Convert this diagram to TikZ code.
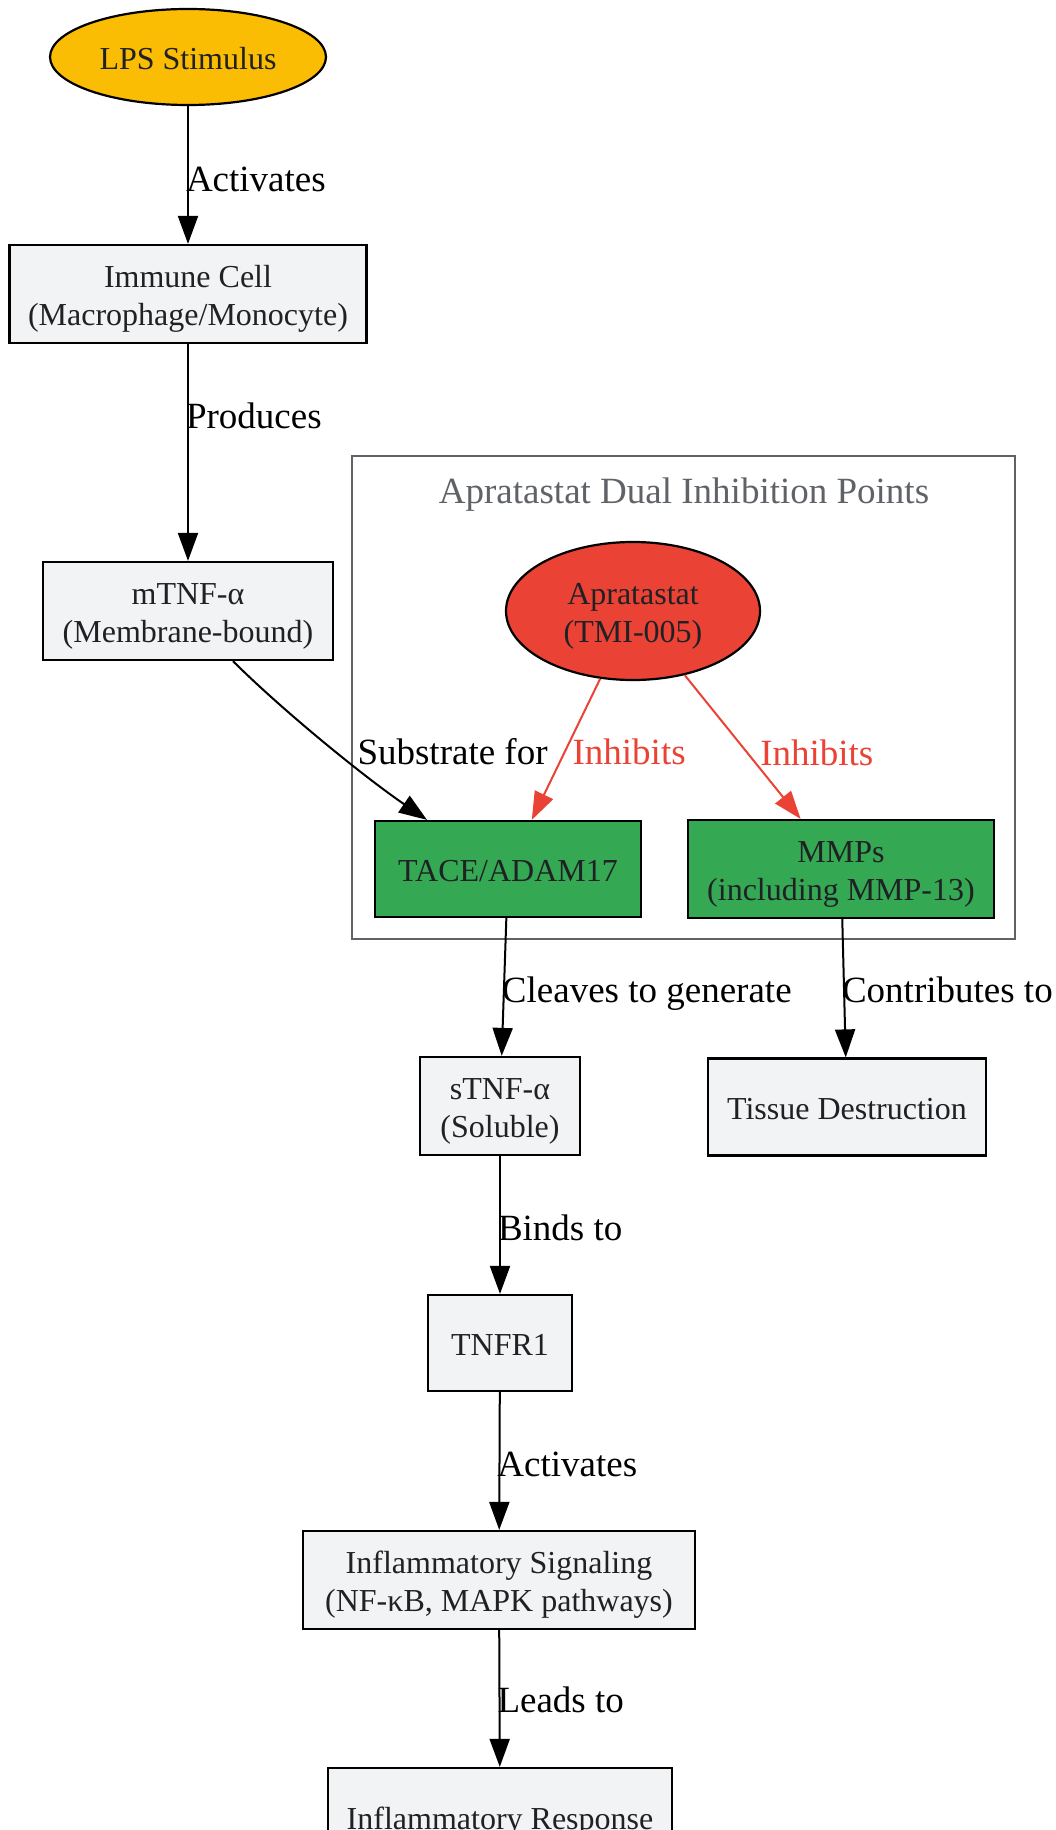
\documentclass[tikz,border=0pt]{standalone}
\usepackage{fontspec}
\setmainfont{Liberation Serif}
\usetikzlibrary{arrows.meta,shapes.geometric,positioning}
\definecolor{boxfill}{HTML}{F1F3F4}
\definecolor{txtdark}{HTML}{202124}
\definecolor{lpsyellow}{HTML}{FBBC04}
\definecolor{aprred}{HTML}{EA4335}
\definecolor{enzgreen}{HTML}{34A853}
\definecolor{clgray}{HTML}{5F6368}
\newcommand{\boxstrut}{\rule[-7pt]{0pt}{39pt}}
\tikzstyle{box}=[draw=black,line width=2.2pt,fill=boxfill,text=txtdark,align=center,
                inner sep=0pt,font=\fontsize{32}{38.5}\selectfont,minimum height=98pt]
\tikzstyle{enzyme}=[box,fill=enzgreen]
\tikzstyle{oval}=[box,ellipse]
\tikzstyle{flow}=[draw,line width=2pt,-{Triangle[length=28pt,width=20pt]}]
\tikzstyle{inhib}=[flow,draw=aprred]
\tikzstyle{edgelbl}=[anchor=west,inner sep=0pt,xshift=-3pt,text height=25pt,text depth=0pt,
                font=\fontsize{37}{44}\selectfont]
\tikzstyle{cluster}=[draw=clgray,line width=2pt]

\begin{document}
\begin{tikzpicture}[x=1pt,y=-1pt]
\useasboundingbox (0,0) rectangle (1056,1830);
% inhibition cluster
\node [cluster,minimum width=663pt,minimum height=483pt] (dual) at (683.5,697.5) {};
\node [font=\fontsize{37}{44}\selectfont,text=clgray] (dualtitle) at (684,494.5) {Apratastat Dual Inhibition Points};

\node [oval,fill=lpsyellow,minimum width=276pt,minimum height=96pt] (lps) at (188,57) {\boxstrut LPS Stimulus};
\node [box,minimum width=357pt] (immune) at (188,294) {\boxstrut Immune Cell\\(Macrophage/Monocyte)};
\node [box,minimum width=290pt] (mtnf) at (188,611) {\boxstrut mTNF-α\\(Membrane-bound)};
\node [oval,fill=aprred,minimum width=254pt,minimum height=138pt] (apr) at (633,611) {\boxstrut Apratastat\\(TMI-005)};
\node [enzyme,minimum width=266pt,minimum height=96pt] (tace) at (508,869) {\boxstrut TACE/ADAM17};
\node [enzyme,minimum width=306pt] (mmps) at (841,869) {\boxstrut MMPs\\(including MMP-13)};
\node [box,minimum width=160pt] (stnf) at (500,1106) {\boxstrut sTNF-α\\(Soluble)};
\node [box,minimum width=278pt,minimum height=97pt] (tissue) at (847,1107) {\boxstrut Tissue Destruction};
\node [box,minimum width=144pt,minimum height=96pt] (tnfr) at (500,1343) {\boxstrut TNFR1};
\node [box,minimum width=392pt] (signal) at (499,1580) {\boxstrut Inflammatory Signaling\\(NF-κB, MAPK pathways)};
\node [box,minimum width=344pt] (resp) at (500,1817) {\boxstrut Inflammatory Response};

\draw [flow] (lps) -- (immune) node [edgelbl,pos=0.53] {Activates};
\draw [flow] (immune) -- (mtnf) node [edgelbl,pos=0.33] {Produces};
\draw [flow] ([xshift=45pt]mtnf.south) .. controls +(46,46) and +(-67,-46) .. ([xshift=-81pt]tace.north)
  node [edgelbl,pos=0.55,xshift=27pt,yshift=-3.5pt] {Substrate for};
\draw [inhib] (apr) -- (tace) node [edgelbl,pos=0.52,xshift=10pt,text=aprred] {Inhibits};
\draw [inhib] (apr) -- (mmps) node [edgelbl,pos=0.54,xshift=15pt,text=aprred] {Inhibits};
\draw [flow] (tace) -- (stnf) node [edgelbl,pos=0.52] {Cleaves to generate};
\draw [flow] (mmps) -- (tissue) node [edgelbl,pos=0.51] {Contributes to};
\draw [flow] (stnf) -- (tnfr) node [edgelbl,pos=0.52] {Binds to};
\draw [flow] (tnfr) -- (signal) node [edgelbl,pos=0.52] {Activates};
\draw [flow] (signal) -- (resp) node [edgelbl,pos=0.51] {Leads to};
\end{tikzpicture}
\end{document}
